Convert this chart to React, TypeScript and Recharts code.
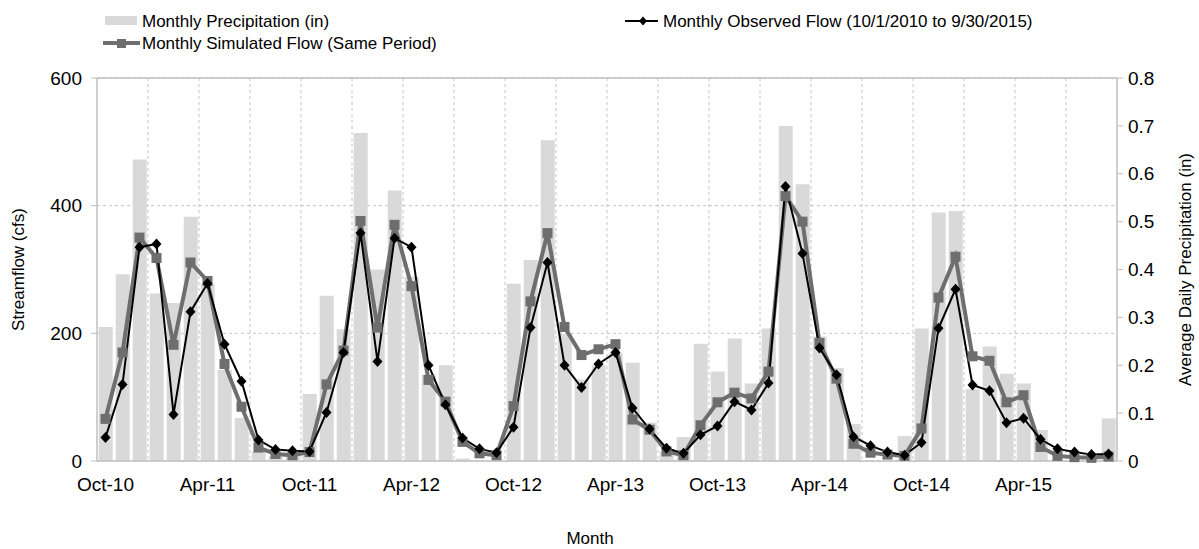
import React from 'react';
import {
  ComposedChart,
  Bar,
  Line,
  XAxis,
  YAxis,
  CartesianGrid,
  ReferenceLine,
  Legend,
  Label,
} from 'recharts';

const months = [
  'Oct-10', 'Nov-10', 'Dec-10', 'Jan-11', 'Feb-11', 'Mar-11', 'Apr-11', 'May-11', 'Jun-11', 'Jul-11', 'Aug-11', 'Sep-11',
  'Oct-11', 'Nov-11', 'Dec-11', 'Jan-12', 'Feb-12', 'Mar-12', 'Apr-12', 'May-12', 'Jun-12', 'Jul-12', 'Aug-12', 'Sep-12',
  'Oct-12', 'Nov-12', 'Dec-12', 'Jan-13', 'Feb-13', 'Mar-13', 'Apr-13', 'May-13', 'Jun-13', 'Jul-13', 'Aug-13', 'Sep-13',
  'Oct-13', 'Nov-13', 'Dec-13', 'Jan-14', 'Feb-14', 'Mar-14', 'Apr-14', 'May-14', 'Jun-14', 'Jul-14', 'Aug-14', 'Sep-14',
  'Oct-14', 'Nov-14', 'Dec-14', 'Jan-15', 'Feb-15', 'Mar-15', 'Apr-15', 'May-15', 'Jun-15', 'Jul-15', 'Aug-15', 'Sep-15',
];

const precipitation = [
  0.28, 0.39, 0.63, 0.35, 0.33, 0.51, 0.37, 0.19, 0.09, 0.02, 0.01, 0.01,
  0.14, 0.345, 0.275, 0.685, 0.40, 0.565, 0.385, 0.18, 0.20, 0.005, 0.0, 0.0,
  0.37, 0.42, 0.67, 0.265, 0.17, 0.20, 0.225, 0.205, 0.08, 0.02, 0.05, 0.245,
  0.187, 0.256, 0.162, 0.277, 0.70, 0.578, 0.26, 0.194, 0.077, 0.0, 0.0, 0.052,
  0.277, 0.519, 0.522, 0.15, 0.239, 0.182, 0.162, 0.065, 0.0, 0.0, 0.0, 0.089,
];

const observedFlow = [
  37, 120, 335, 340, 73, 234, 278, 183, 125, 33, 18, 16,
  15, 76, 170, 357, 156, 349, 335, 150, 88, 36, 19, 13,
  53, 209, 311, 150, 115, 152, 170, 83, 50, 20, 12, 41,
  55, 93, 80, 122, 430, 325, 177, 135, 38, 24, 14, 9,
  29, 208, 269, 119, 110, 60, 67, 34, 19, 14, 10, 11,
];

const simulatedFlow = [
  66, 170, 350, 318, 182, 311, 282, 152, 85, 21, 11, 9,
  14, 120, 173, 376, 209, 370, 274, 127, 93, 30, 12, 9,
  86, 250, 357, 210, 166, 175, 183, 65, 49, 15, 9, 56,
  92, 107, 98, 140, 415, 375, 185, 129, 27, 13, 10, 8,
  51, 256, 320, 164, 157, 92, 103, 22, 8, 6, 5, 7,
];

const flowTicks = [0, 200, 400, 600];
const precipTicks = [0, 0.1, 0.2, 0.3, 0.4, 0.5, 0.6, 0.7, 0.8];

const legendLabels = {
  precip: 'Monthly Precipitation (in)',
  simulated: 'Monthly Simulated Flow (Same Period)',
  observed: 'Monthly Observed Flow (10/1/2010 to 9/30/2015)',
};

const data = months.map((m, i) => ({
  month: m,
  precip: precipitation[i],
  observed: observedFlow[i],
  simulated: simulatedFlow[i],
}));

const FONT = '"Liberation Sans", Arial, sans-serif';
const BAR_COLOR = '#d9d9d9';
const SIM_COLOR = '#6e6e6e';
const OBS_COLOR = '#000000';
const AXIS_COLOR = '#bfbfbf';
const GRID_COLOR = '#c4c4c4';

const SquareDot = (props: any) => {
  const { cx, cy } = props;
  if (cx == null || cy == null) return null;
  return <rect x={cx - 5} y={cy - 5} width={10} height={10} fill={SIM_COLOR} />;
};

const DiamondDot = (props: any) => {
  const { cx, cy } = props;
  if (cx == null || cy == null) return null;
  return (
    <path
      d={`M${cx},${cy - 5.5} L${cx + 5},${cy} L${cx},${cy + 5.5} L${cx - 5},${cy} Z`}
      fill={OBS_COLOR}
    />
  );
};

const LegendContent = () => (
  <svg width={1199} height={60} style={{ display: 'block' }}>
    <rect x={105} y={16} width={32} height={9} fill={BAR_COLOR} />
    <text x={142} y={21} fontSize={17} fontFamily={FONT} dominantBaseline="central" fill="#000">
      {legendLabels.precip}
    </text>
    <line x1={103} x2={140} y1={43} y2={43} stroke={SIM_COLOR} strokeWidth={4} />
    <rect x={117} y={39} width={9} height={9} fill={SIM_COLOR} />
    <text x={142} y={43} fontSize={17} fontFamily={FONT} dominantBaseline="central" fill="#000">
      {legendLabels.simulated}
    </text>
    <line x1={625} x2={658} y1={21} y2={21} stroke={OBS_COLOR} strokeWidth={2} />
    <path d="M643,16.5 L647,21 L643,25.5 L639,21 Z" fill={OBS_COLOR} />
    <text x={663} y={21} fontSize={17} fontFamily={FONT} dominantBaseline="central" fill="#000">
      {legendLabels.observed}
    </text>
  </svg>
);

const LeftTitle = (props: any) => {
  const vb = props.viewBox || {};
  const x = vb.x + 18;
  const y = vb.y + vb.height / 2;
  return (
    <text x={x} y={y} transform={`rotate(-90, ${x}, ${y})`} textAnchor="middle" dominantBaseline="central"
      fontSize={17} fontFamily={FONT} fill="#000">
      Streamflow (cfs)
    </text>
  );
};

const RightTitle = (props: any) => {
  const vb = props.viewBox || {};
  const x = vb.x + 68;
  const y = vb.y + vb.height / 2;
  return (
    <text x={x} y={y} transform={`rotate(-90, ${x}, ${y})`} textAnchor="middle" dominantBaseline="central"
      fontSize={17} fontFamily={FONT} fill="#000">
      Average Daily Precipitation (in)
    </text>
  );
};

const BottomTitle = (props: any) => {
  const vb = props.viewBox || {};
  const x = vb.x + vb.width / 2 - 17;
  const y = vb.y + 77;
  return (
    <text x={x} y={y} textAnchor="middle" dominantBaseline="central" fontSize={17} fontFamily={FONT} fill="#000">
      Month
    </text>
  );
};

const verticalGen = (args: any) => {
  const offset = args.offset;
  const step = offset.width / months.length;
  const coords: number[] = [];
  for (let k = 3; k < months.length; k += 3) coords.push(offset.left + k * step);
  return coords;
};

export default function App() {
  return (
    <div style={{ position: 'absolute', left: 0, top: 0, width: 1199, height: 549, background: '#fff' }}>
      <ComposedChart
        width={1199}
        height={549}
        data={data}
        margin={{ top: 78, right: 0, bottom: 0, left: 0 }}
        style={{ fontFamily: FONT }}
      >
        <CartesianGrid
          yAxisId="left"
          stroke={GRID_COLOR}
          strokeDasharray="3 3"
          verticalCoordinatesGenerator={verticalGen}
        />
        <ReferenceLine yAxisId="left" y={600} stroke={AXIS_COLOR} strokeWidth={1.5} />
        <XAxis
          dataKey="month"
          interval={5}
          height={88}
          tickLine={false}
          tickSize={6}
          tickMargin={11}
          axisLine={{ stroke: AXIS_COLOR, strokeWidth: 1.5 }}
          tick={{ fontSize: 19, fill: '#000', fontFamily: FONT }}
        >
          <Label content={<BottomTitle />} />
        </XAxis>
        <YAxis
          yAxisId="left"
          orientation="left"
          width={97}
          domain={[0, 600]}
          ticks={flowTicks}
          tickSize={6}
          tickMargin={9}
          tickLine={{ stroke: AXIS_COLOR }}
          axisLine={{ stroke: AXIS_COLOR, strokeWidth: 1.5 }}
          tick={{ fontSize: 19, fill: '#000', fontFamily: FONT }}
        >
          <Label content={<LeftTitle />} />
        </YAxis>
        <YAxis
          yAxisId="right"
          orientation="right"
          width={82}
          domain={[0, 0.8]}
          ticks={precipTicks}
          tickSize={6}
          tickMargin={5}
          tickLine={{ stroke: AXIS_COLOR }}
          axisLine={{ stroke: AXIS_COLOR, strokeWidth: 1.5 }}
          tick={{ fontSize: 19, fill: '#000', fontFamily: FONT }}
        >
          <Label content={<RightTitle />} />
        </YAxis>
        <Legend
          layout="horizontal"
          verticalAlign="middle"
          align="center"
          wrapperStyle={{ position: 'absolute', top: 0, left: 0, width: 1199, height: 60 }}
          content={<LegendContent />}
        />
        <Bar
          yAxisId="right"
          dataKey="precip"
          name={legendLabels.precip}
          fill={BAR_COLOR}
          barCategoryGap="4%"
          isAnimationActive={false}
        />
        <Line
          yAxisId="left"
          type="linear"
          dataKey="simulated"
          name={legendLabels.simulated}
          stroke={SIM_COLOR}
          strokeWidth={4}
          dot={(p: any) => <SquareDot key={`s-${p.index}`} cx={p.cx} cy={p.cy} />}
          activeDot={false}
          isAnimationActive={false}
        />
        <Line
          yAxisId="left"
          type="linear"
          dataKey="observed"
          name={legendLabels.observed}
          stroke={OBS_COLOR}
          strokeWidth={2}
          dot={(p: any) => <DiamondDot key={`o-${p.index}`} cx={p.cx} cy={p.cy} />}
          activeDot={false}
          isAnimationActive={false}
        />
      </ComposedChart>
    </div>
  );
}
